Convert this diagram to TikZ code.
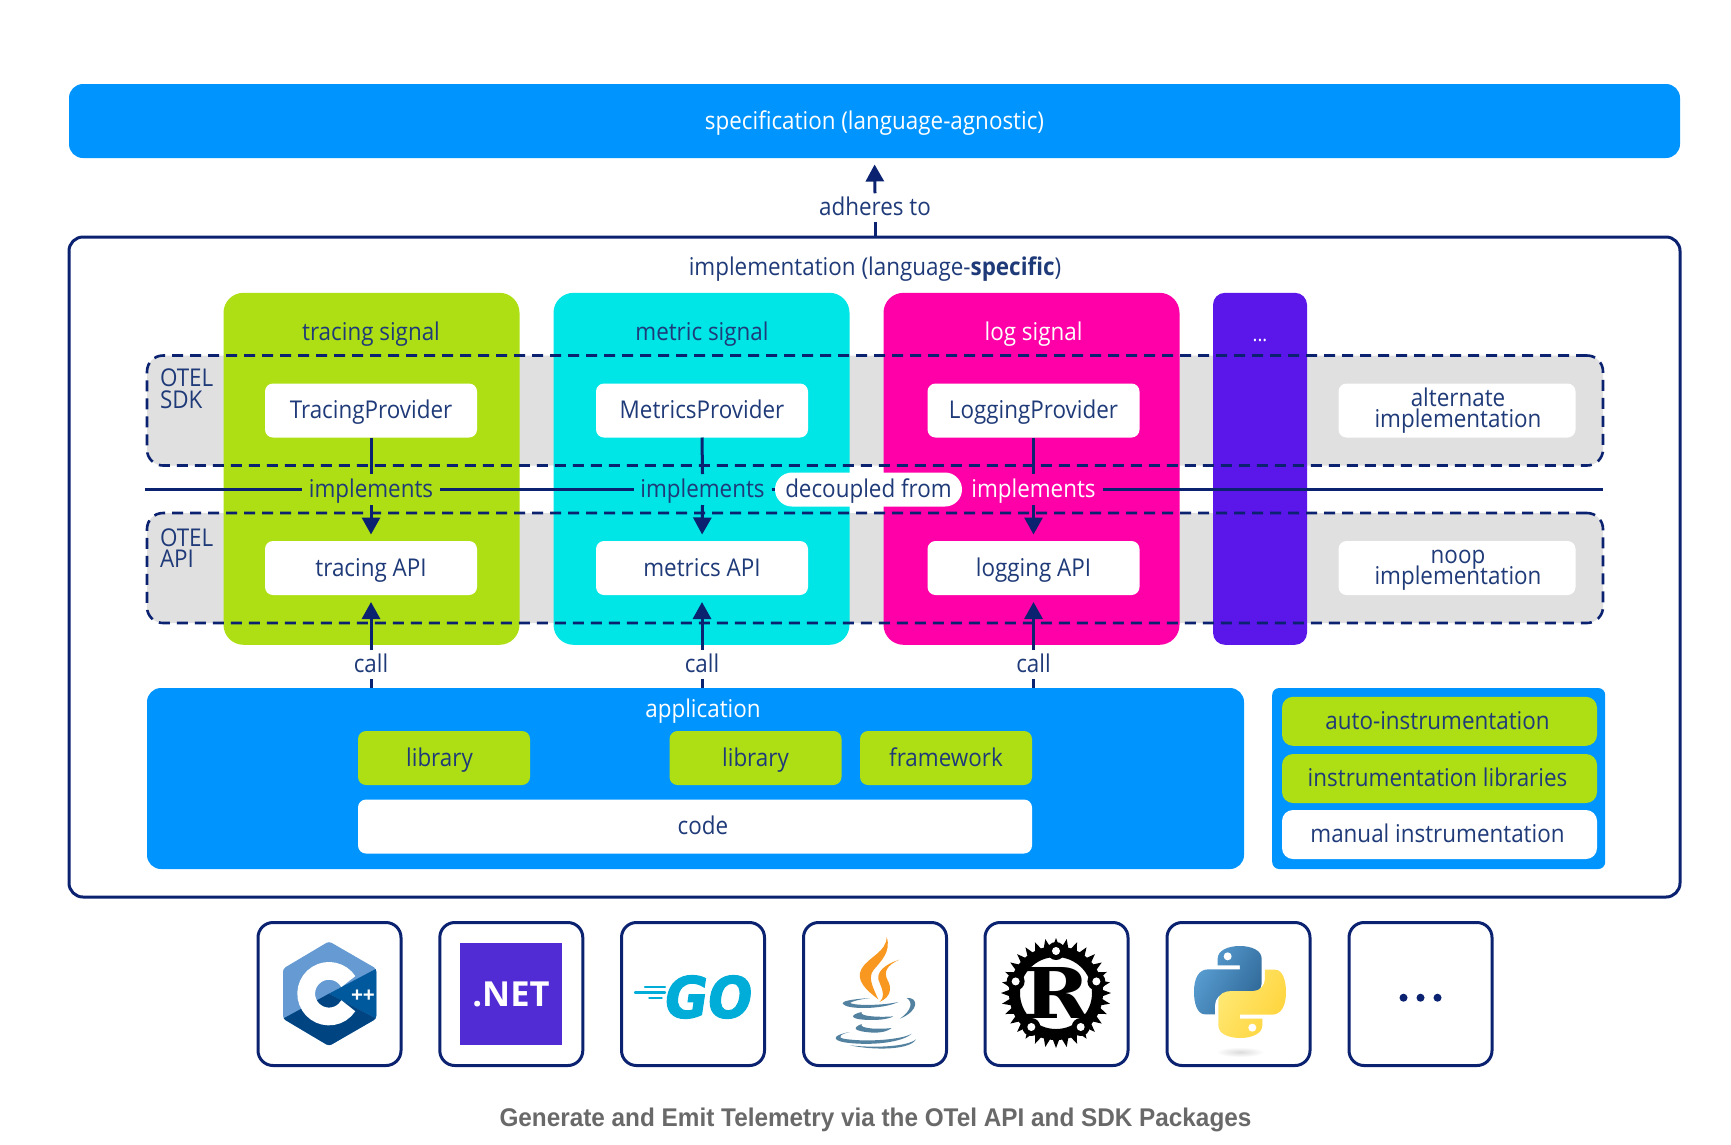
\documentclass[tikz,border=0pt]{standalone}
\usepackage{fontspec}
\setmainfont{Open Sans}[FakeStretch=0.915]
\newfontfamily\netfont{Open Sans}
\newfontfamily\capfont{Liberation Sans}[FakeStretch=0.95]
\newfontfamily\gofont{DejaVu Sans}[BoldFeatures={FakeBold=2,FakeSlant=0.15,FakeStretch=0.92}]
\newfontfamily\rfont{DejaVu Serif}[FakeStretch=1.15]
\usetikzlibrary{arrows.meta,calc}
\definecolor{navy}{HTML}{0B2270}
\definecolor{txt}{HTML}{1F3A78}
\definecolor{specblue}{HTML}{0094FF}
\definecolor{lime}{HTML}{ADDF14}
\definecolor{cyanc}{HTML}{00E5E5}
\definecolor{pinkc}{HTML}{FF00A8}
\definecolor{violetc}{HTML}{5B17E9}
\definecolor{band}{HTML}{E0E0E0}
\tikzset{
  x=1pt,y=-1pt,
  base/.style={inner sep=0pt,outer sep=0pt,align=center,text=txt,text height=20pt,text depth=4pt,font=\fontsize{24.5}{21.5}\selectfont},
  multi/.style={text height=,text depth=},
  box/.style={base,rectangle,rounded corners=8pt},
  column/.style={box,rounded corners=20pt,minimum width=296pt,minimum height=352pt},
  whitebox/.style={box,fill=white},
  limebox/.style={box,fill=lime},
  label/.style={base},
  wlabel/.style={base,text=white},
  bandfill/.style={box,fill=band,rounded corners=16pt,minimum width=1456pt,minimum height=110pt},
  bandline/.style={box,draw=navy,line width=2.6pt,rounded corners=16pt,minimum width=1456pt,minimum height=110pt,dash pattern=on 11pt off 7pt},
  tile/.style={box,draw=navy,line width=3pt,fill=white,rounded corners=15pt,minimum width=143pt,minimum height=143pt},
  conn/.style={draw=navy,line width=3pt},
  arr/.style={conn,-{Triangle[length=17pt,width=18pt]}},
}
\begin{document}
\begin{tikzpicture}
\useasboundingbox (0,0) rectangle (1731,1144);
% specification
\node[box,fill=specblue,rounded corners=14pt,minimum width=1611pt,minimum height=74pt,text=white] (spec) at (874.5,121) {specification (language-agnostic)};
% implementation frame
\node[box,draw=navy,line width=3pt,rounded corners=14pt,minimum width=1611pt,minimum height=660pt] (impl) at (874.5,567) {};
\node[label] (impltitle) at (875,267.5) {implementation (language-{\bfseries specific})};
\node[label,minimum height=28.5pt] (adh) at (875,207.5) {adheres to};
% bands
\node[bandfill] (sdk) at (875,410.5) {};
\node[bandfill] (api) at (875,568) {};
% columns
\node[column,fill=lime] (ctrace) at (371.5,468.8) {};
\node[column,fill=cyanc] (cmetric) at (701.5,468.8) {};
\node[column,fill=pinkc] (clog) at (1031.5,468.8) {};
\node[column,fill=violetc,minimum width=94pt,rounded corners=12pt] (cdots) at (1260,468.8) {};
% column titles
\node[label] (ttrace) at (371,332.5) {tracing signal};
\node[label] (tmetric) at (702,332.5) {metric signal};
\node[wlabel] (tlog) at (1033.5,332.5) {log signal};
\node[wlabel,font=\fontsize{20}{20}\selectfont] (tdots) at (1260,333) {...};
% band dashes
\node[bandline] (sdkb) at (875,410.5) {};
\node[bandline] (apib) at (875,568) {};
\node[label,multi,anchor=west,align=left] (sdkt) at (160,388.75) {\rule{0pt}{18pt}OTEL\\SDK};
\node[label,multi,anchor=west,align=left] (apit) at (160,547.75) {\rule{0pt}{18pt}OTEL\\API};
% white boxes
\tikzset{wb/.style={whitebox,minimum width=212pt,minimum height=54pt}}
\node[wb] (tp) at (371,410.5) {TracingProvider};
\node[wb] (mp) at (702,410.5) {MetricsProvider};
\node[wb] (lp) at (1033.5,410.5) {LoggingProvider};
\node[wb] (ta) at (371,568) {tracing API};
\node[wb] (ma) at (702,568) {metrics API};
\node[wb] (la) at (1033.5,568) {logging API};
\node[whitebox,multi,minimum width=237pt,minimum height=54pt] (alt) at (1457,410.5) {\rule{0pt}{18pt}\hspace*{2pt}alternate\\\hspace*{2pt}implementation};
\node[whitebox,multi,minimum width=237pt,minimum height=54pt] (noop) at (1457,568) {\rule{0pt}{18pt}\hspace*{2pt}\smash{noop}\\\hspace*{2pt}implementation};
% decoupled band
\coordinate (hl) at (145.4,489.5);
\coordinate (hr) at (1603,489.5);
\tikzset{impl/.style={label,minimum width=138pt,minimum height=31pt}}
\node[impl] (i1) at (371,489.5) {implements};
\node[impl] (i2) at (702.5,489.5) {implements};
\node[impl,text=white] (i3) at (1033.5,489.5) {implements};
\node[box,fill=white,rounded corners=17pt,minimum width=187pt,minimum height=34pt] (dec) at (868.5,489.5) {decoupled from};
\draw[conn] (hl) -- (i1.west);
\draw[conn] (i1.east) -- (i2.west);
\draw[conn] (i2.east) -- (dec.west);
\draw[conn] (i3.east) -- (hr);
\foreach \p/\i/\a in {tp/i1/ta,mp/i2/ma,lp/i3/la}{
  \draw[conn] (\p.south) -- (\i.north);
  \draw[arr,shorten >=6.5pt] (\i.south) -- (\a.north);
}
% application
\node[box,fill=specblue,rounded corners=14pt,minimum width=1097pt,minimum height=181pt] (app) at (695.5,778.5) {};
\node[wlabel] (appt) at (703,709) {application};
\node[limebox,minimum width=172pt,minimum height=54pt] (lib1) at (444,758) {\hspace*{-9pt}library};
\node[limebox,minimum width=172pt,minimum height=54pt] (lib2) at (755.5,758) {library};
\node[limebox,minimum width=172pt,minimum height=54pt] (fw) at (946,758) {framework};
\node[whitebox,minimum width=674pt,minimum height=54pt] (code) at (695,826.5) {\hspace*{16pt}code};
% call arrows
\tikzset{calll/.style={label,minimum height=29pt}}
\node[calll] (c1) at (371,664.5) {call};
\node[calll] (c2) at (702,664.5) {call};
\node[calll] (c3) at (1033.5,664.5) {call};
\foreach \c/\a in {c1/ta,c2/ma,c3/la}{
  \draw[arr,shorten >=7pt] (\c.north) -- (\a.south);
  \draw[conn] (\c.south) -- (\c.south |- app.north);
}
% adheres
\draw[arr,shorten >=6.5pt] (adh.north) -- (spec.south);
\draw[conn] (adh.south) -- (adh.south |- impl.north);
% instrumentation panel
\node[box,fill=specblue,rounded corners=7pt,minimum width=333pt,minimum height=181pt] (panel) at (1438.7,778.5) {};
\tikzset{pb/.style={box,rounded corners=11pt,minimum width=315pt,minimum height=49pt}}
\node[pb,fill=lime] (auto) at (1439.5,721.3) {\hspace*{-4pt}auto-instrumentation};
\node[pb,fill=lime] (ilib) at (1439.5,778.5) {\hspace*{-4pt}instrumentation libraries};
\node[pb,fill=white] (man) at (1439.5,834.5) {\hspace*{-4pt}manual instrumentation};
% tiles
\node[tile] (t1) at (329.5,994) {};
\node[tile] (t2) at (511.3,994) {};
\node[tile] (t3) at (693,994) {};
\node[tile] (t4) at (875,994) {};
\node[tile] (t5) at (1056.5,994) {};
\node[tile] (t6) at (1238.5,994) {};
\node[tile] (t7) at (1420.5,994) {};
% C++
\begin{scope}[shift={(258,922)},x=0.3333pt,y=-0.3333pt]
  \begin{scope}
    \clip[rounded corners=3pt] (213,58) -- (355,140) -- (355,290) -- (213,372) -- (75,290) -- (75,140) -- cycle;
    \fill[color={rgb,255:red,101;green,154;blue,210}] (60,40) rectangle (370,390);
    \fill[color={rgb,255:red,0;green,89;blue,156}] (213,215) -- (355,140) -- (360,140) -- (360,295) -- (355,290) -- cycle;
    \fill[color={rgb,255:red,0;green,68;blue,130}] (213,215) -- (355,290) -- (355,380) -- (60,380) -- (60,299) -- (75,290) -- cycle;
    \draw[white,line width=17.7pt] (213,215) ++(32:22.8pt) arc[start angle=32,end angle=328,radius=22.8pt];
  \end{scope}
  \node[wlabel,font=\netfont\bfseries\fontsize{21}{21}\selectfont] (cpp) at (315,217) {++};
\end{scope}
% .NET
\node[rectangle,fill={rgb,255:red,81;green,43;blue,212},inner sep=0pt,minimum width=102pt,minimum height=102pt,text=white,font=\netfont\bfseries\fontsize{34.5}{34.5}\selectfont] (net) at (511,994) {.NET};
% Go
\begin{scope}[shift={(620,922)},x=0.3333pt,y=-0.3333pt]
  \definecolor{goc}{HTML}{00ADD8}
  \node[inner sep=0pt,text=goc,font=\gofont\bfseries\fontsize{57}{57}\selectfont] (go) at (257,225) {GO};
  \draw[goc,line width=2.4pt,line cap=round] (75,195) -- (135,195) (45,212) -- (135,212) (88,228) -- (125,228);
\end{scope}
% Java
\begin{scope}[shift={(620,922)},x=0.3333pt,y=-0.3333pt]
  \definecolor{jo}{HTML}{F89820}
  \definecolor{jb}{HTML}{5382A1}
  \fill[jo] (800,45) .. controls (815,90) and (780,120) .. (760,145) .. controls (745,165) and (755,190) .. (775,232) .. controls (740,205) and (705,175) .. (725,140) .. controls (745,105) and (800,90) .. (800,45) -- cycle;
  \fill[jo] (838,113) .. controls (800,125) and (760,150) .. (780,185) .. controls (790,210) and (795,225) .. (778,240) .. controls (815,225) and (815,195) .. (803,175) .. controls (790,150) and (800,130) .. (838,113) -- cycle;
  \fill[jb] (750,228) .. controls (690,232) and (665,238) .. (668,245) .. controls (680,264) and (790,262) .. (835,240) .. controls (790,250) and (710,252) .. (690,243) .. controls (695,238) and (720,232) .. (750,228) -- cycle;
  \fill[jb] (860,228) .. controls (895,225) and (900,265) .. (840,290) .. controls (875,265) and (880,240) .. (860,228) -- cycle;
  \fill[jb] (725,270) .. controls (690,278) and (690,290) .. (730,293) .. controls (770,296) and (805,292) .. (820,283) .. controls (790,286) and (715,285) .. (725,270) -- cycle;
  \fill[jb] (725,306) .. controls (695,318) and (700,328) .. (760,332) .. controls (790,332) and (805,326) .. (815,318) .. controls (790,322) and (715,322) .. (725,306) -- cycle;
  \fill[jb] (690,330) .. controls (640,338) and (630,355) .. (680,362) .. controls (760,372) and (850,360) .. (875,335) .. controls (850,352) and (740,362) .. (670,350) .. controls (650,345) and (665,335) .. (690,330) -- cycle;
  \fill[jb] (690,370) .. controls (760,378) and (860,375) .. (888,352) .. controls (870,385) and (760,385) .. (690,370) -- cycle;
\end{scope}
% Rust
\begin{scope}[shift={(1056,993)}]
  \foreach \i in {0,...,31}{
    \pgfmathsetmacro{\a}{\i*11.25}
    \fill[black] (\a-5.5:44pt) -- (\a:55pt) -- (\a+5.5:44pt) -- cycle;
  }
  \fill[black,even odd rule] (0,0) circle (47pt) (0,0) circle (36pt);
  \foreach \a in {90,16,164,-54,-126}{
    \fill[black] (\a:42pt) circle (9pt);
    \fill[white] (\a:42pt) circle (4pt);
  }
  \node[inner sep=0pt,text=black,font=\rfont\bfseries\fontsize{70}{70}\selectfont] (rust) at (1,0) {R};
\end{scope}
% Python
\begin{scope}[shift={(985,922)},x=0.3333pt,y=-0.3333pt]
  \def\snake{(698,110) .. controls (698,85) and (730,72) .. (764,72) .. controls (800,72) and (830,85) .. (830,110) -- (830,185) .. controls (830,205) and (810,213) .. (790,213) -- (725,213) .. controls (705,213) and (690,230) .. (690,250) -- (690,277) -- (660,277) .. controls (635,277) and (627,240) .. (627,210) .. controls (627,170) and (640,142) .. (670,142) -- (765,142) -- (765,130) -- (698,130) -- cycle}
  \shade[inner color=black!14,outer color=white] (765,390) ellipse [x radius=24pt,y radius=5pt];
  \shade[left color={rgb,255:red,90;green,159;blue,212},right color={rgb,255:red,48;green,105;blue,152},shading angle=60] \snake;
  \fill[white] (728,103) circle (4pt);
  \shade[left color={rgb,255:red,255;green,232;blue,115},right color={rgb,255:red,255;green,212;blue,59},shading angle=60,rotate around={180:(765,210)}] \snake;
  \fill[white] (802,317) circle (4pt);
\end{scope}
% dots
\foreach \x in {-17,0,17}{\fill[navy] ($(t7.center)+(\x,3.7)$) circle (4pt);}
% caption
\node[inner sep=0pt,text={rgb,255:red,105;green,105;blue,105},font=\capfont\bfseries\fontsize{25.6}{25.6}\selectfont] (cap) at (875.5,1119.5) {Generate and Emit Telemetry via the OTel API and SDK Packages};
\end{tikzpicture}
\end{document}
